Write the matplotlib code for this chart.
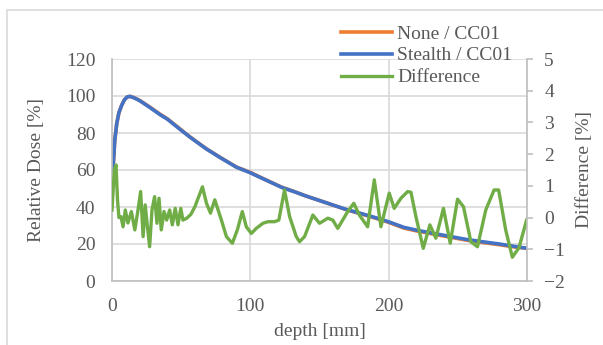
import matplotlib
matplotlib.use('Agg')
import matplotlib.pyplot as plt
from matplotlib.patches import Rectangle

plt.rcParams['font.family'] = ['Liberation Serif', 'DejaVu Serif']
plt.rcParams['font.size'] = 14

# relative dose curves (depth in mm, dose in %)
dose_depth = [0, 1, 2, 3.4, 5, 7, 9, 11, 13, 16, 20, 27, 35, 40, 50, 56, 60, 68, 78,
              90, 100, 110, 123, 132, 140, 156, 170, 180, 192, 200, 211, 220, 232,
              245, 256, 268, 280, 290, 300]
stealth_dose = [60, 64, 76, 85, 91, 95, 98, 99.5, 99.8, 99, 97.5, 94, 89.8, 87.5, 81.5,
                78, 75.8, 71.5, 66.8, 61.5, 58.5, 55, 50.5, 48.2, 46, 42, 38.5, 36.5,
                33.9, 32, 29, 27.5, 25.8, 24, 22.5, 21.2, 20, 18.8, 17.7]
none_dose = [60, 64, 76, 85, 91, 95, 98, 99.5, 99.8, 99.1, 97.6, 94.2, 90, 87.7, 81.7,
             78.1, 75.9, 71.6, 66.9, 61.6, 58.7, 55.1, 50.6, 48.3, 46, 42, 38.4, 36.3,
             33.6, 31.7, 28.6, 27.1, 25.4, 23.6, 22.1, 20.8, 19.6, 18.5, 17.6]

# difference curve (depth in mm, difference in %)
diff_depth = [0, 1.7, 2.9, 4, 5, 6.5, 8, 9.6, 11.5, 14, 16.5, 18.8, 20.7, 22.5, 24,
              25.6, 27.2, 28.9, 30.8, 32.5, 34, 35.6, 37.6, 39.5, 41.7, 43.6, 45.7,
              47.7, 49.7, 51.3, 54, 57, 59.9, 65.4, 68.3, 71.2, 74.3, 79.1, 82.7, 87,
              90.6, 94.2, 97.1, 100.7, 104.3, 109.1, 112.7, 117.5, 120.6, 124.7, 128.4,
              133.2, 135.6, 139.2, 145.2, 150, 156, 159.6, 163.2, 170.4, 174.8, 178.8,
              184.8, 189.6, 194.4, 200.4, 204, 208.9, 213.7, 216.1, 219.7, 225, 229.8,
              234.1, 239.6, 244.5, 249.8, 254.1, 259.4, 264.2, 270.2, 276.2, 279.5,
              284.6, 289.4, 294.2, 299.7]
difference = [0.24, 1.5, 1.66, 0.55, 0.0, 0.03, -0.29, 0.24, -0.17, 0.19, -0.39, 0.24,
              0.82, -0.6, 0.4, -0.29, -0.92, 0.24, 0.66, -0.18, 0.61, -0.39, 0.19, -0.08,
              0.24, -0.23, 0.29, -0.23, 0.29, -0.08, -0.02, 0.1, 0.34, 0.97, 0.45, 0.14,
              0.56, -0.08, -0.6, -0.81, -0.39, 0.19, -0.29, -0.5, -0.34, -0.18, -0.13,
              -0.13, -0.08, 0.87, 0.03, -0.6, -0.76, -0.6, 0.08, -0.18, -0.02, -0.08,
              -0.34, 0.19, 0.45, 0.08, -0.29, 1.19, -0.29, 0.77, 0.29, 0.61, 0.82, 0.8,
              0.03, -0.97, -0.23, -0.65, 0.29, -0.81, 0.58, 0.34, -0.76, -0.92, 0.24,
              0.87, 0.87, -0.39, -1.25, -0.95, -0.08]

text_c = '#595959'
grid_c = '#d9d9d9'
axis_c = '#bfbfbf'

fig = plt.figure(figsize=(6.03, 3.45), dpi=100)
ax = fig.add_axes([112 / 603, 1 - 281 / 345, 415 / 603, 222 / 345])
ax2 = ax.twinx()

l1, = ax.plot(dose_depth, none_dose, color='#ED7D31', lw=2.6, label='None / CC01')
l2, = ax.plot(dose_depth, stealth_dose, color='#4472C4', lw=2.6, label='Stealth / CC01')
l3, = ax2.plot(diff_depth, difference, color='#70AD47', lw=2.4, label='Difference')

ax.set_xlim(0, 300)
ax.set_ylim(0, 120)
ax.set_xticks([0, 100, 200, 300])
ax.set_yticks(range(0, 121, 20))
ax2.set_ylim(-2, 5)
ax2.set_yticks(range(-2, 6))

ax.grid(True, color=grid_c, lw=1.2)
ax.set_axisbelow(True)

for a in (ax, ax2):
    for s in a.spines.values():
        s.set_visible(False)
ax.spines['left'].set_visible(True)
ax.spines['bottom'].set_visible(True)
ax2.spines['right'].set_visible(True)
for s in (ax.spines['left'], ax.spines['bottom'], ax2.spines['right']):
    s.set_color(axis_c)
    s.set_linewidth(1.2)

ax.tick_params(axis='both', length=0, colors=text_c)
ax.tick_params(axis='y', pad=12)
ax.tick_params(axis='x', pad=12)
ax2.tick_params(axis='y', length=4.5, width=1.2, color=axis_c, labelcolor=text_c, pad=8)

ax.set_xlabel('depth [mm]', color=text_c)
ax.xaxis.label.set_va('center')
ax.xaxis.set_label_coords(0.5, -(332 - 281) / 222)
ax.set_ylabel('Relative Dose [%]', color=text_c)
ax.yaxis.label.set_va('center')
ax.yaxis.set_label_coords((37 - 112) / 415, 0.5)
ax2.set_ylabel('Difference [%]', color=text_c, rotation=90)
ax2.yaxis.label.set_va('center')
ax2.yaxis.set_label_coords((585 - 112) / 415, 0.5)

fig.legend(handles=[l1, l2, l3], loc='upper left',
           bbox_to_anchor=(341 / 603, 1 - 25 / 345), frameon=False,
           borderpad=0, borderaxespad=0, handlelength=2.6, handletextpad=0.3,
           labelspacing=0.22, labelcolor=text_c)

# light chart border
fig.patches.append(Rectangle((7 / 603, -0.1), 1.1, 1.1 - 10 / 345, transform=fig.transFigure,
                             fill=False, edgecolor=grid_c, lw=1.2))

fig.savefig('out.png', dpi=100)
